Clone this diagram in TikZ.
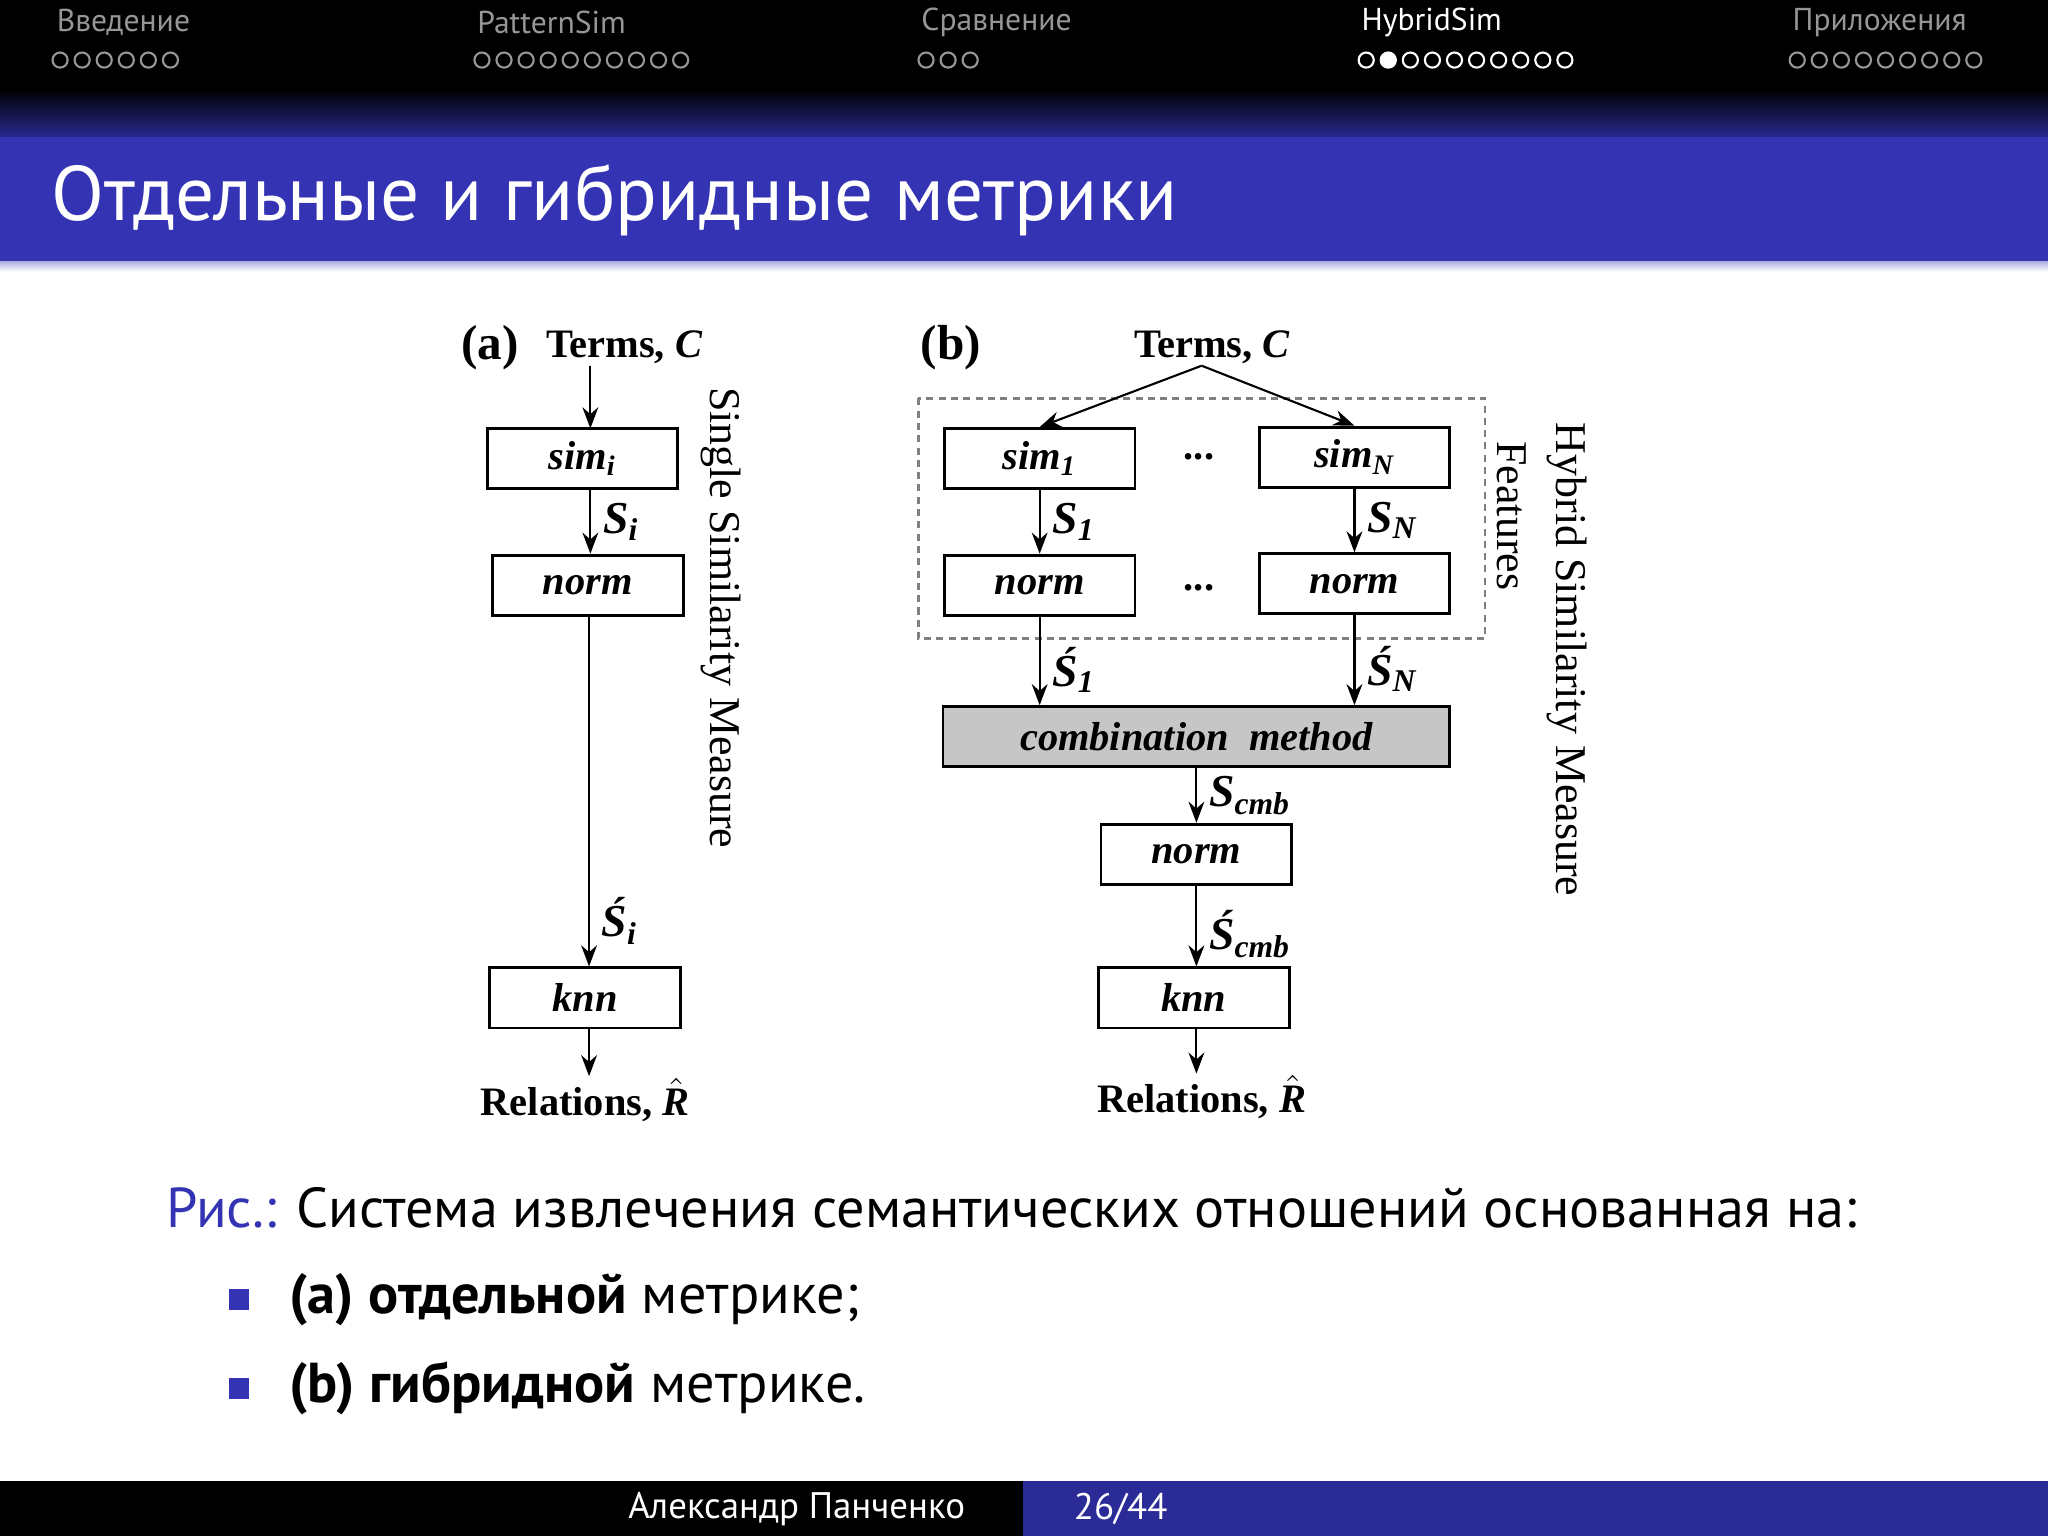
\documentclass[tikz,border=0pt]{standalone}
\usepackage{fontspec}
\setmainfont{Liberation Serif}
\newfontfamily\slidesf{PT Sans}
\usetikzlibrary{arrows.meta, positioning, calc}
\definecolor{struct}{RGB}{51,51,179}
\definecolor{navgray}{RGB}{150,150,150}
\newcommand{\sym}[2]{{\bfseries\itshape\fontsize{13}{13}\selectfont #1\textsubscript{\fontsize{9}{9}\selectfont #2}}}
\tikzset{
	box/.style={draw, thick, minimum width=146*0.013061cm, minimum height=46*0.013061cm, inner sep=0pt, font=\bfseries\itshape\fontsize{11.5}{11.5}\selectfont},
	flow/.style={-{Stealth[length=6pt,width=4.5pt]}, semithick},
	plain/.style={font=\bfseries\fontsize{11.5}{11.5}\selectfont},
	side/.style={rotate=-90, font=\fontsize{12.5}{12.5}\selectfont},
	nav/.style={font=\slidesf\fontsize{9}{9}\selectfont, text=navgray, anchor=west},
	dot/.style={draw=navgray, semithick, circle, inner sep=0pt, minimum size=4.3pt},
}
\begin{document}
\begin{tikzpicture}[x=0.013061cm, y=-0.013061cm]
	\useasboundingbox (0,0) rectangle (1568,1176);
	% slide frame
	\fill[black] (0,0) rectangle (1568,68);
	\shade[top color=black, bottom color=struct!80!black] (0,68) rectangle (1568,105);
	\fill[struct] (0,105) rectangle (1568,200);
	\shade[top color=struct!40, bottom color=white] (0,200) rectangle (1568,208);
	\fill[black] (0,1134) rectangle (783,1176);
	\fill[struct!85!black] (783,1134) rectangle (1568,1176);
	% navigation
	\node[nav] (n1) at (34,17) {Введение};
	\node[nav] (n2) at (356,17) {PatternSim};
	\node[nav] (n3) at (696,17) {Сравнение};
	\node[nav, text=white] (n4) at (1033,17) {HybridSim};
	\node[nav] (n5) at (1363,17) {Приложения};
	\foreach \x/\n in {46/6, 369/10, 709/3, 1376/9}
		\foreach \i in {1,...,\n}
			\node[dot] at (\x+16.9*\i-16.9,46) {};
	\foreach \i in {1,...,10}
		\node[dot, draw=white] (h\i) at (1046+16.9*\i-16.9,46) {};
	\fill[white] (h2) circle (2.3pt);
	% title
	\node[anchor=west, text=white, font=\slidesf\fontsize{22}{22}\selectfont] (title) at (30,153) {Отдельные и гибридные метрики};
	% footer
	\node[text=white, font=\slidesf\fontsize{10.5}{10.5}\selectfont] (author) at (610,1155) {Александр Панченко};
	\node[text=white, font=\slidesf\fontsize{10.5}{10.5}\selectfont] (page) at (858,1155) {26/44};

	% (a) single measure
	\node[font=\bfseries\fontsize{14}{14}\selectfont] (la) at (375,266) {(a)};
	\node[plain] (ta) at (478,266) {Terms, \textit{C}};
	\node[box] (simi) at (446,351) {sim\textsubscript{i}};
	\node[box] (norma) at (450,448) {norm};
	\node[box] (knna) at (448,764) {knn};
	\node[plain] (ra) at (448,842) {Relations, $\hat{\textit{R}}$};
	\draw[flow] (452,280) -- (452,328);
	\draw[flow] (simi.south -| 452,0) -- (norma.north -| 452,0) node[midway, right] {\sym{S}{i}};
	\draw[flow] (norma.south -| 451,0) -- (knna.north -| 451,0) node[pos=0.87, right] {\sym{\'S}{i}};
	\draw[flow] (knna.south -| 451,0) -- (451,824);
	\node[side] (single) at (552,473) {Single Similarity Measure};

	% (b) hybrid measure
	\node[font=\bfseries\fontsize{14}{14}\selectfont] (lb) at (728,266) {(b)};
	\node[plain] (tb) at (928,266) {Terms, \textit{C}};
	\draw[thick, dash pattern=on 2pt off 1.5pt, gray] (703,305) rectangle (1137,489);
	\node[box] (sim1) at (796,351) {sim\textsubscript{1}};
	\node[box] (simN) at (1037,350) {sim\textsubscript{N}};
	\node[box] (norm1) at (796,448) {norm};
	\node[box] (normN) at (1037,447) {norm};
	\node[plain] (dots1) at (918,350) {...};
	\node[plain] (dots2) at (918,450) {...};
	\node[box, fill=gray!45, minimum width=388*0.013061cm] (comb) at (916,564) {combination\enspace method};
	\node[box] (normb) at (916,654) {norm};
	\node[box] (knnb) at (914,764) {knn};
	\node[plain] (rb) at (920,840) {Relations, $\hat{\textit{R}}$};
	\coordinate (src) at (920,280);
	\draw[flow] (src) -- (sim1.north);
	\draw[flow] (src) -- (simN.north);
	\draw[flow] (sim1) -- (norm1) node[midway, right] {\sym{S}{1}};
	\draw[flow] (simN) -- (normN) node[midway, right] {\sym{S}{N}};
	\draw[flow] (norm1) -- (norm1 |- comb.north) node[pos=0.6, right] {\sym{\'S}{1}};
	\draw[flow] (normN) -- (normN |- comb.north) node[pos=0.6, right] {\sym{\'S}{N}};
	\draw[flow] (comb) -- (normb) node[midway, right] {\sym{S}{cmb}};
	\draw[flow] (normb) -- (normb |- knnb.north) node[pos=0.6, right] {\sym{\'S}{cmb}};
	\draw[flow] (knnb.south -| 916,0) -- (916,822);
	\node[side] (feat) at (1157,395) {Features};
	\node[side] (hybrid) at (1200,505) {Hybrid Similarity Measure};

	% caption
	\node[anchor=west, font=\slidesf\fontsize{16}{16}\selectfont] (cap) at (118,925) {\textcolor{struct}{Рис.:} Система извлечения семантических отношений основанная на:};
	\fill[struct] (175,987) rectangle (191,1003);
	\fill[struct] (175,1055) rectangle (191,1071);
	\node[anchor=west, font=\slidesf\fontsize{16}{16}\selectfont] (ba) at (212,995) {\textbf{(a) отдельной} метрике;};
	\node[anchor=west, font=\slidesf\fontsize{16}{16}\selectfont] (bb) at (212,1063) {\textbf{(b) гибридной} метрике.};
\end{tikzpicture}
\end{document}
